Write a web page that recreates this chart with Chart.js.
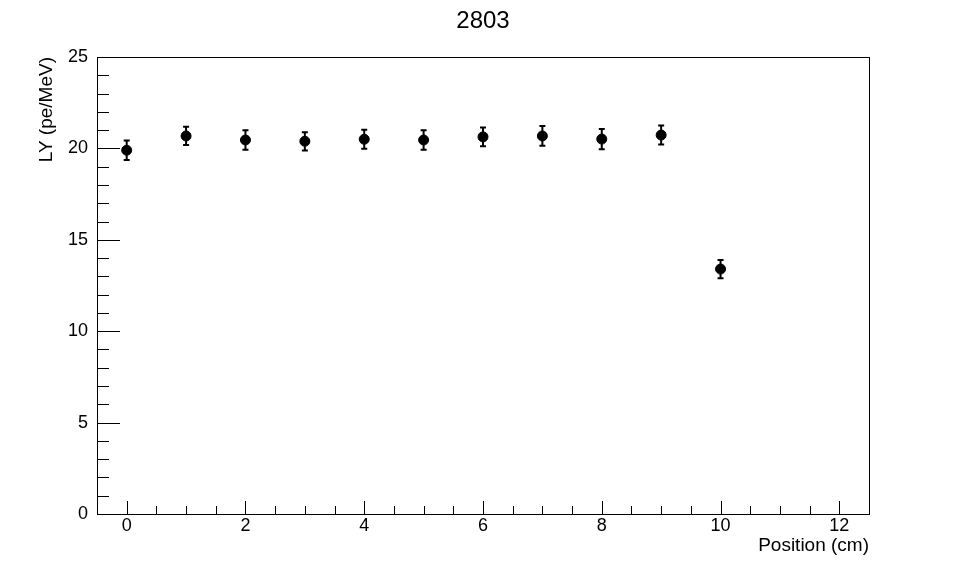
<!DOCTYPE html>
<html>
<head>
<meta charset="utf-8">
<script src="https://cdn.jsdelivr.net/npm/chart.js@4/dist/chart.umd.min.js"></script>
<style>
  body { margin: 0; background: #fff; }
  #c { display: block; }
</style>
</head>
<body>
<canvas id="c" width="966" height="572"></canvas>
<script>
// data
const positions = [0, 1, 2, 3, 4, 5, 6, 7, 8, 9, 10];
const lightYield = [19.9, 20.68, 20.46, 20.39, 20.5, 20.46, 20.63, 20.68, 20.51, 20.73, 13.4];
const yieldErr = [0.53, 0.5, 0.53, 0.5, 0.52, 0.53, 0.51, 0.54, 0.55, 0.52, 0.5];
const chartTitle = "2803";
const xTitle = "Position (cm)";
const yTitle = "LY (pe/MeV)";

const FONT = "'Liberation Sans', Arial, Helvetica, sans-serif";

// ROOT-like frame, inner ticks, error bars and titles
const rootStyle = {
    id: "rootStyle",
    afterDatasetsDraw(chart) {
        const ctx = chart.ctx, a = chart.chartArea;
        const xs = chart.scales.x, ys = chart.scales.y;
        ctx.save();
        ctx.strokeStyle = "#000";
        ctx.lineWidth = 1;
        ctx.strokeRect(a.left + 0.5, a.top + 0.5, a.right - a.left, a.bottom - a.top);

        // y ticks (major every 5, minor every 1)
        ctx.beginPath();
        for (let v = ys.min; v <= ys.max + 1e-9; v += 1) {
            const py = Math.round(ys.getPixelForValue(v)) + 0.5;
            const len = v % 5 === 0 ? 23 : 12;
            ctx.moveTo(a.left, py); ctx.lineTo(a.left + len, py);
        }
        // x ticks (major every 2, minor every 0.5)
        for (let v = -0.5; v <= xs.max + 1e-9; v += 0.5) {
            const px = Math.round(xs.getPixelForValue(v)) + 0.5;
            const len = Math.abs(v % 2) < 1e-9 ? 13 : 8;
            ctx.moveTo(px, a.bottom); ctx.lineTo(px, a.bottom - len);
        }
        ctx.stroke();

        // error bars
        ctx.lineWidth = 2;
        ctx.beginPath();
        positions.forEach((x, i) => {
            const px = xs.getPixelForValue(x);
            const top = ys.getPixelForValue(lightYield[i] + yieldErr[i]);
            const bot = ys.getPixelForValue(lightYield[i] - yieldErr[i]);
            ctx.moveTo(px, top); ctx.lineTo(px, bot);
            ctx.moveTo(px - 3, top); ctx.lineTo(px + 3, top);
            ctx.moveTo(px - 3, bot); ctx.lineTo(px + 3, bot);
        });
        ctx.stroke();

        // titles
        ctx.fillStyle = "#000";
        ctx.font = "24px " + FONT;
        ctx.textAlign = "center";
        ctx.textBaseline = "alphabetic";
        ctx.fillText(chartTitle, chart.width / 2, 28);

        ctx.font = "19px " + FONT;
        ctx.textAlign = "right";
        ctx.fillText(xTitle, a.right, 551);

        ctx.translate(52, a.top);
        ctx.rotate(-Math.PI / 2);
        ctx.textAlign = "right";
        ctx.fillText(yTitle, 0, 0);
        ctx.restore();
    }
};

new Chart(document.getElementById("c"), {
    type: "scatter",
    data: {
        datasets: [{
            data: positions.map((x, i) => ({ x: x, y: lightYield[i] })),
            backgroundColor: "#000",
            borderColor: "#000",
            pointRadius: 5,
            pointHoverRadius: 5
        }]
    },
    options: {
        responsive: false,
        animation: false,
        layout: { padding: { left: 0, right: 97, top: 57, bottom: 0 } },
        plugins: { legend: { display: false }, tooltip: { enabled: false } },
        scales: {
            x: {
                type: "linear", min: -0.5, max: 12.5,
                afterBuildTicks: s => { s.ticks = [0, 2, 4, 6, 8, 10, 12].map(v => ({ value: v })); },
                afterFit: s => { s.height = 58; },
                grid: { display: false, drawTicks: false },
                border: { display: false },
                ticks: { color: "#000", font: { family: FONT, size: 18 }, padding: 1, maxRotation: 0 }
            },
            y: {
                type: "linear", min: 0, max: 25,
                afterBuildTicks: s => { s.ticks = [0, 5, 10, 15, 20, 25].map(v => ({ value: v })); },
                afterFit: s => { s.width = 97; },
                grid: { display: false, drawTicks: false },
                border: { display: false },
                ticks: { color: "#000", font: { family: FONT, size: 18 }, padding: 9 }
            }
        }
    },
    plugins: [rootStyle]
});
</script>
</body>
</html>
